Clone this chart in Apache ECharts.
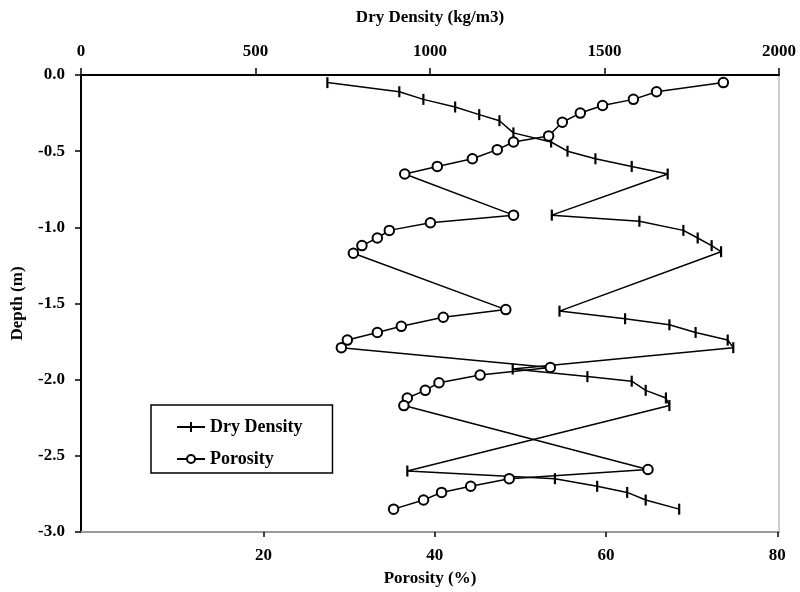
<!DOCTYPE html>
<html>
<head>
<meta charset="utf-8">
<script src="https://cdn.jsdelivr.net/npm/echarts@6/dist/echarts.min.js"></script>
<style>html,body{margin:0;padding:0;background:#fff}#c{width:800px;height:592px}</style>
</head>
<body>
<div id="c"></div>
<script>
// Dry density (kg/m3) vs depth (m)
const densityValues = [706, 912, 981, 1072, 1141, 1199, 1239, 1347, 1394, 1474, 1578, 1681,
  1349, 1600, 1726, 1767, 1807, 1834,
  1371, 1559, 1686, 1761, 1853, 1869,
  1237, 1451, 1578, 1618, 1676, 1686,
  935, 1358, 1479, 1565, 1618, 1714];
const densityDepths = [-0.05, -0.11, -0.16, -0.21, -0.26, -0.30, -0.38, -0.44, -0.50, -0.55, -0.60, -0.65,
  -0.92, -0.96, -1.02, -1.07, -1.12, -1.16,
  -1.55, -1.60, -1.64, -1.69, -1.74, -1.79,
  -1.93, -1.98, -2.01, -2.07, -2.12, -2.17,
  -2.60, -2.65, -2.70, -2.74, -2.79, -2.85];
// Porosity (%) vs depth (m)
const porosityValues = [73.7, 65.9, 63.2, 59.6, 57.0, 54.9, 53.3, 49.2, 47.3, 44.4, 40.3, 36.5,
  49.2, 39.5, 34.7, 33.3, 31.5, 30.5,
  48.3, 41.0, 36.1, 33.3, 29.8, 29.1,
  53.5, 45.3, 40.5, 38.9, 36.8, 36.4,
  64.9, 48.7, 44.2, 40.8, 38.7, 35.2];
const porosityDepths = [-0.05, -0.11, -0.16, -0.20, -0.25, -0.31, -0.40, -0.44, -0.49, -0.55, -0.60, -0.65,
  -0.92, -0.97, -1.02, -1.07, -1.12, -1.17,
  -1.54, -1.59, -1.65, -1.69, -1.74, -1.79,
  -1.92, -1.97, -2.02, -2.07, -2.12, -2.17,
  -2.59, -2.65, -2.70, -2.74, -2.79, -2.85];
const densityTicks = [0, 500, 1000, 1500, 2000];
const porosityTicks = [20, 40, 60, 80];
const depthTicks = [0, -0.5, -1.0, -1.5, -2.0, -2.5, -3.0];

const FONT = '"Liberation Serif", "Times New Roman", serif';
const txt = {fontFamily: FONT, fontWeight: 'bold', fontSize: 17, color: '#000'};

const densityData = densityValues.map((v, i) => [v, densityDepths[i]]);
const porosityData = porosityValues.map((v, i) => [v, porosityDepths[i]]);

// legend icon: horizontal line with a vertical tick in the middle
const densityIcon = 'path://M0,4.1 L28,4.1 L28,5.9 L0,5.9 Z M13,0 L15,0 L15,10 L13,10 Z';

const chart = echarts.init(document.getElementById('c'), null, {renderer: 'canvas'});
chart.setOption({
  animation: false,
  backgroundColor: '#fff',
  grid: {left: 81, right: 21, top: 75, bottom: 55, show: true, borderColor: '#999', borderWidth: 1, backgroundColor: 'transparent'},
  legend: {
    orient: 'vertical', left: 151, top: 405,
    itemWidth: 28, itemHeight: 10, itemGap: 14,
    padding: [13, 30, 5, 25],
    borderColor: '#000', borderWidth: 1.5,
    textStyle: Object.assign({}, txt, {fontSize: 18}),
    data: [{name: 'Dry Density', icon: densityIcon, itemStyle: {color: '#000'}}, {name: 'Porosity'}]
  },
  xAxis: [{
    type: 'value', position: 'top', min: 0, max: 2000, interval: 500,
    name: 'Dry Density (kg/m3)', nameLocation: 'middle', nameGap: 49, nameTextStyle: txt,
    axisLine: {show: true, lineStyle: {color: '#000', width: 2}},
    axisTick: {show: true, inside: false, length: 7, lineStyle: {color: '#000', width: 1.5}},
    axisLabel: Object.assign({margin: 15, formatter: v => String(v)}, txt),
    splitLine: {show: false}
  }, {
    type: 'value', position: 'bottom', min: -1.3, max: 80.2,
    name: 'Porosity (%)', nameLocation: 'middle', nameGap: 38, nameTextStyle: txt,
    axisLine: {show: true, onZero: false, lineStyle: {color: '#999', width: 2}},
    axisTick: {show: true, inside: false, length: 5, customValues: porosityTicks, lineStyle: {color: '#000', width: 1.5}},
    axisLabel: Object.assign({margin: 15, customValues: porosityTicks, formatter: v => String(v)}, txt),
    splitLine: {show: false}
  }],
  yAxis: {
    type: 'value', min: -3, max: 0, interval: 0.5,
    name: 'Depth (m)', nameLocation: 'middle', nameGap: 55, nameTextStyle: txt,
    axisLine: {show: true, onZero: false, lineStyle: {color: '#000', width: 2}},
    axisTick: {show: true, inside: false, length: 6, lineStyle: {color: '#000', width: 1.5}},
    axisLabel: Object.assign({margin: 16, formatter: v => v.toFixed(1)}, txt),
    splitLine: {show: false}
  },
  series: [{
    name: 'Dry Density', type: 'line', xAxisIndex: 0, data: densityData,
    symbol: 'path://M0,0 L1,0 L1,10 L0,10 Z', symbolSize: [2.2, 11], symbolKeepAspect: false,
    showAllSymbol: true,
    lineStyle: {color: '#000', width: 1.5},
    itemStyle: {color: '#000'}
  }, {
    name: 'Porosity', type: 'line', xAxisIndex: 1, data: porosityData,
    symbol: 'emptyCircle', symbolSize: 9.5, showAllSymbol: true,
    lineStyle: {color: '#000', width: 1.5},
    itemStyle: {color: '#000', borderColor: '#000', borderWidth: 1.5}
  }]
});
</script>
</body>
</html>
